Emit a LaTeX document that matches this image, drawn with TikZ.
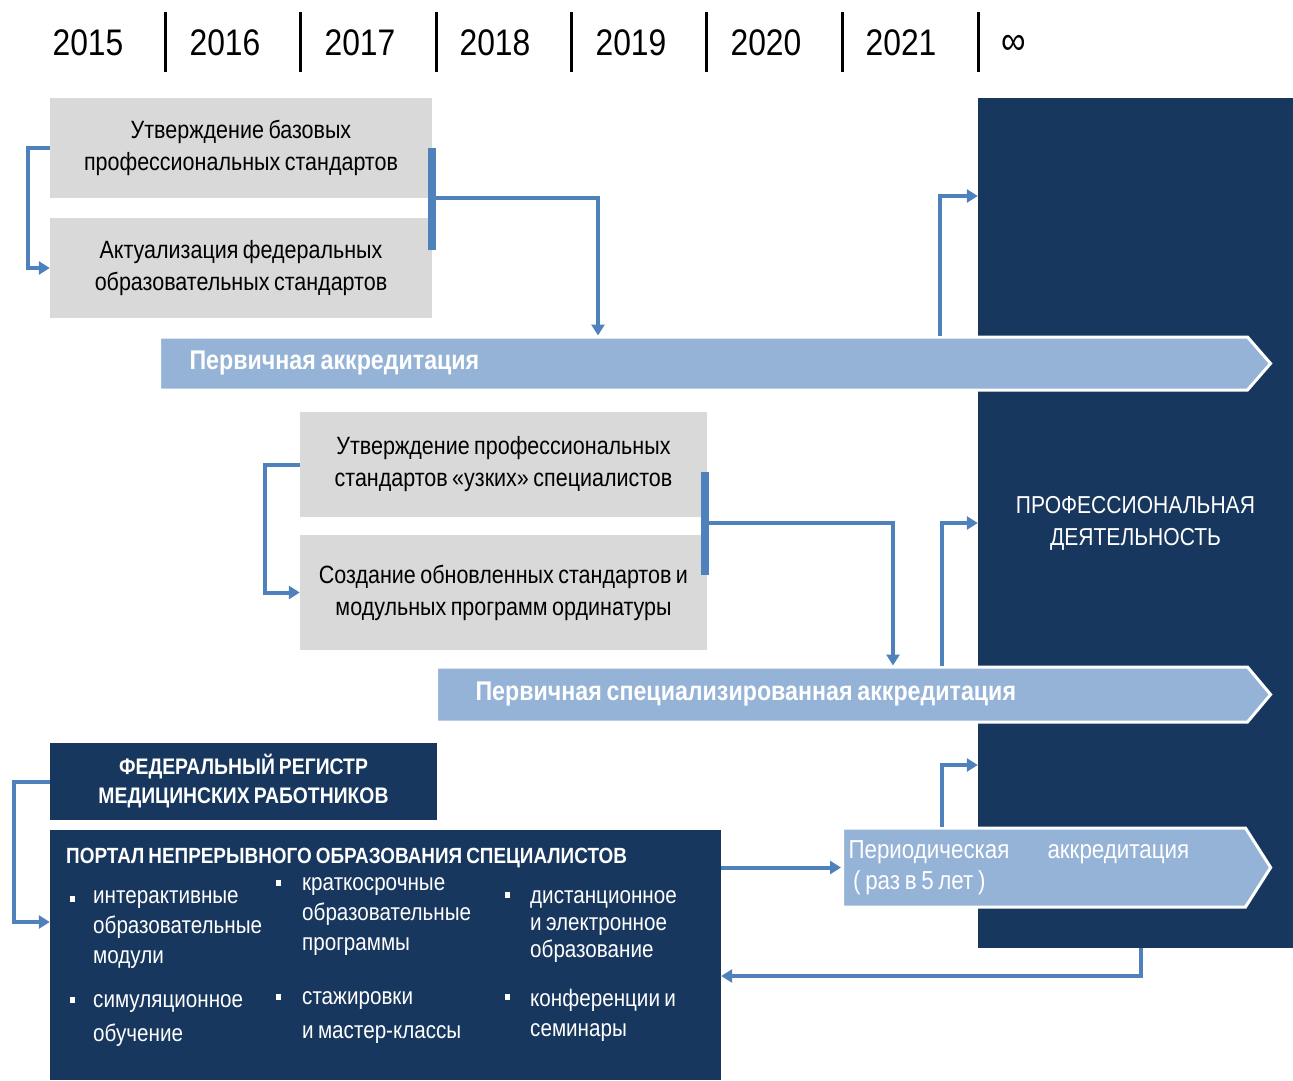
\documentclass[tikz,border=0pt]{standalone}
\usepackage{fontspec}
\setmainfont{Liberation Sans}[FakeStretch=0.86, WordSpace=0.75]
\usetikzlibrary{arrows.meta, positioning, shapes.symbols}

\definecolor{navy}{HTML}{17375E}
\definecolor{greybox}{HTML}{D9D9D9}
\definecolor{bandblue}{HTML}{95B3D7}
\definecolor{linkblue}{HTML}{4F81BD}

\begin{document}
\begin{tikzpicture}[
    x=1pt, y=-1pt,
    year/.style={inner sep=0, font=\fontsize{37}{44}\selectfont},
    tick/.style={line width=3pt, black},
    stage/.style={fill=greybox, inner sep=0, align=center, font=\fontsize{25}{32}\selectfont},
    bar/.style={fill=linkblue, inner sep=0, minimum width=8, minimum height=102},
    band/.style={signal, signal to=east, fill=bandblue, draw=white, line width=3pt,
        text=white, align=left, minimum height=53, inner ysep=0,
        execute at begin node={\spaceskip=0pt\xspaceskip=0pt},
        font=\bfseries\fontsize{27}{32}\selectfont},
    darkbox/.style={fill=navy, text=white, inner sep=0, align=center},
    item/.style={text=white, inner sep=0, anchor=west, align=left, font=\fontsize{24}{30}\selectfont},
    dot/.style={fill=white, inner sep=0, minimum width=5, minimum height=6},
    conn/.style={linkblue, line width=4pt, -{Triangle[length=11pt, width=13pt]}}
]
\useasboundingbox (0,0) rectangle (1293,1080);

% Timeline
\node[year] (y2015) at (88,43) {2015};
\node[year] (y2016) at (225,43) {2016};
\node[year] (y2017) at (360,43) {2017};
\node[year] (y2018) at (495,43) {2018};
\node[year] (y2019) at (631,43) {2019};
\node[year] (y2020) at (766,43) {2020};
\node[year] (y2021) at (901,43) {2021};
\node[year, font=\fontsize{40}{44}\selectfont] (yinf) at (1014,45) {∞};

\draw[tick] (165,12) -- (165,72);
\draw[tick] (300,12) -- (300,72);
\draw[tick] (436,12) -- (436,72);
\draw[tick] (571,12) -- (571,72);
\draw[tick] (706,12) -- (706,72);
\draw[tick] (842,12) -- (842,72);
\draw[tick] (978,12) -- (978,72);

% Professional activity
\node[darkbox, minimum width=315, minimum height=850, font=\fontsize{24.5}{32}\selectfont]
    (prof) at (1135.5,523) {ПРОФЕССИОНАЛЬНАЯ\\ДЕЯТЕЛЬНОСТЬ};

% Stage 1
\node[stage, minimum width=382, minimum height=100] (base) at (241,148)
    {Утверждение базовых\\профессиональных стандартов};
\node[stage, minimum width=382, minimum height=100] (fgos) at (241,268)
    {Актуализация федеральных\\образовательных стандартов};
\node[bar] (bar1) at (432,199) {};
\node[band, anchor=west, text width=1028, inner xsep=30, signal pointer angle=98]
    (prim) at (158,363.5) {Первичная аккредитация};

% Stage 2
\node[stage, minimum width=407, minimum height=105] (narrow) at (503.5,464.5)
    {Утверждение профессиональных\\стандартов «узких» специалистов};
\node[stage, minimum width=407, minimum height=115] (modul) at (503.5,592.5)
    {Создание обновленных стандартов и\\модульных программ ординатуры};
\node[bar, minimum height=103] (bar2) at (705,523.5) {};
\node[band, anchor=west, text width=733, inner xsep=39, minimum height=55, signal pointer angle=100]
    (spec) at (435,694.5) {Первичная специализированная аккредитация};

% Stage 3
\node[darkbox, minimum width=387, minimum height=77, font=\bfseries\fontsize{22.5}{29}\selectfont]
    (fed) at (243.5,781.5) {ФЕДЕРАЛЬНЫЙ РЕГИСТР\\МЕДИЦИНСКИХ РАБОТНИКОВ};
\node[darkbox, minimum width=671, minimum height=250] (portal) at (385.5,955) {};
\node[item, font=\bfseries\fontsize{22}{28}\selectfont] (ptitle) at (66,858)
    {ПОРТАЛ НЕПРЕРЫВНОГО ОБРАЗОВАНИЯ СПЕЦИАЛИСТОВ};

\node[dot] (d1) at (72,899) {};
\node[dot] (d2) at (278,883) {};
\node[dot] (d3) at (507,895) {};
\node[dot] (d4) at (72,1000) {};
\node[dot] (d5) at (278,997) {};
\node[dot] (d6) at (507,997) {};
\node[item] (i1) at (93,930) {интерактивные\\образовательные\\модули};
\node[item] (i2) at (302,917) {краткосрочные\\образовательные\\программы};
\node[item, font=\fontsize{24}{27}\selectfont] (i3) at (530,926.5) {дистанционное\\и электронное\\образование};
\node[item, font=\fontsize{24}{34}\selectfont] (i4) at (93,1021) {симуляционное\\обучение};
\node[item, font=\fontsize{24}{34}\selectfont] (i5) at (302,1017.5) {стажировки\\и мастер-классы};
\node[item] (i6) at (530,1015.5) {конференции и\\семинары};

\node[band, anchor=west, text width=391, inner xsep=6, minimum height=79, signal pointer angle=115,
    font=\fontsize{26}{31}\selectfont]
    (per) at (841,867.5) {Периодическая\hspace{38pt}аккредитация\\\ ( раз в 5 лет )};

% Connectors
\draw[conn] (base.west) -- ++(-22,0) |- (fgos.west);
\draw[conn] (bar1.east |- 0,198) -| (prim.north -| 598,0);
\draw[conn] (prim.north -| 940,0) |- (prof.west |- 0,196);

\draw[conn] (narrow.west) -- ++(-35,0) |- (modul.west);
\draw[conn] (bar2.east |- 0,523) -| (spec.north -| 893,0);
\draw[conn] (spec.north -| 942,0) |- (prof.west |- 0,523);

\draw[conn] (fed.west) -- ++(-36,0) |- (portal.west |- 0,922);
\draw[conn] (portal.east |- per.west) -- (per.west);
\draw[conn] (per.north -| 942,0) |- (prof.west |- 0,765);
\draw[conn] (prof.south -| 1141,0) |- (portal.east |- 0,976);

\end{tikzpicture}
\end{document}
